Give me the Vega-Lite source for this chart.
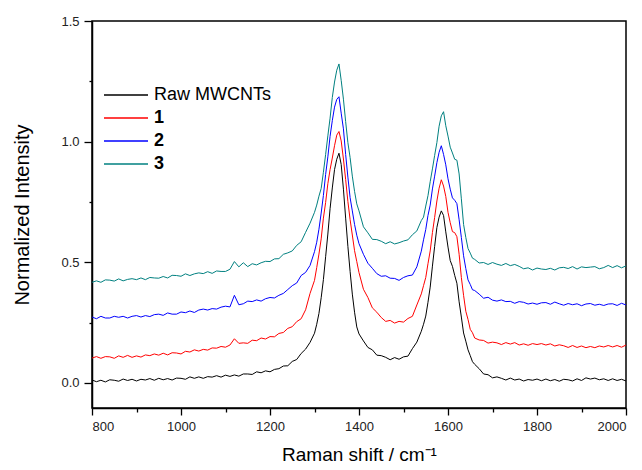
{
"$schema": "https://vega.github.io/schema/vega-lite/v6.json",
"width": 534, "height": 387,
"autosize": {"type": "none"},
"padding": {"left": 92, "top": 21, "right": 16, "bottom": 62},
"background": "white",
"config": {"view": {"stroke": "black", "strokeWidth": 1.5}, "font": "Liberation Sans"},
"data": {"values": [
{"x":800,"Raw MWCNTs":0.012,"1":0.103,"2":0.273,"3":0.417},
{"x":810,"Raw MWCNTs":0.005,"1":0.109,"2":0.266,"3":0.423},
{"x":820,"Raw MWCNTs":0.011,"1":0.102,"2":0.276,"3":0.417},
{"x":830,"Raw MWCNTs":0.004,"1":0.109,"2":0.269,"3":0.427},
{"x":840,"Raw MWCNTs":0.013,"1":0.108,"2":0.269,"3":0.426},
{"x":850,"Raw MWCNTs":0.011,"1":0.102,"2":0.276,"3":0.422},
{"x":860,"Raw MWCNTs":0.007,"1":0.112,"2":0.272,"3":0.431},
{"x":870,"Raw MWCNTs":0.016,"1":0.106,"2":0.276,"3":0.423},
{"x":880,"Raw MWCNTs":0.010,"1":0.114,"2":0.269,"3":0.429},
{"x":890,"Raw MWCNTs":0.015,"1":0.106,"2":0.276,"3":0.432},
{"x":900,"Raw MWCNTs":0.008,"1":0.112,"2":0.279,"3":0.428},
{"x":910,"Raw MWCNTs":0.015,"1":0.107,"2":0.273,"3":0.435},
{"x":920,"Raw MWCNTs":0.012,"1":0.116,"2":0.279,"3":0.428},
{"x":930,"Raw MWCNTs":0.018,"1":0.113,"2":0.275,"3":0.437},
{"x":940,"Raw MWCNTs":0.011,"1":0.120,"2":0.283,"3":0.435},
{"x":950,"Raw MWCNTs":0.019,"1":0.115,"2":0.285,"3":0.434},
{"x":960,"Raw MWCNTs":0.013,"1":0.123,"2":0.280,"3":0.441},
{"x":970,"Raw MWCNTs":0.018,"1":0.116,"2":0.290,"3":0.435},
{"x":980,"Raw MWCNTs":0.012,"1":0.125,"2":0.285,"3":0.446},
{"x":990,"Raw MWCNTs":0.020,"1":0.124,"2":0.285,"3":0.445},
{"x":1000,"Raw MWCNTs":0.019,"1":0.120,"2":0.294,"3":0.442},
{"x":1010,"Raw MWCNTs":0.015,"1":0.131,"2":0.291,"3":0.452},
{"x":1020,"Raw MWCNTs":0.025,"1":0.128,"2":0.298,"3":0.445},
{"x":1030,"Raw MWCNTs":0.019,"1":0.137,"2":0.292,"3":0.452},
{"x":1040,"Raw MWCNTs":0.025,"1":0.132,"2":0.302,"3":0.456},
{"x":1050,"Raw MWCNTs":0.019,"1":0.139,"2":0.306,"3":0.453},
{"x":1060,"Raw MWCNTs":0.026,"1":0.136,"2":0.302,"3":0.461},
{"x":1070,"Raw MWCNTs":0.024,"1":0.145,"2":0.308,"3":0.454},
{"x":1080,"Raw MWCNTs":0.030,"1":0.144,"2":0.306,"3":0.464},
{"x":1090,"Raw MWCNTs":0.024,"1":0.151,"2":0.314,"3":0.462},
{"x":1100,"Raw MWCNTs":0.032,"1":0.148,"2":0.318,"3":0.462},
{"x":1110,"Raw MWCNTs":0.027,"1":0.157,"2":0.315,"3":0.471},
{"x":1120,"Raw MWCNTs":0.033,"1":0.183,"2":0.363,"3":0.503},
{"x":1130,"Raw MWCNTs":0.028,"1":0.164,"2":0.324,"3":0.481},
{"x":1140,"Raw MWCNTs":0.037,"1":0.166,"2":0.328,"3":0.498},
{"x":1150,"Raw MWCNTs":0.037,"1":0.164,"2":0.339,"3":0.482},
{"x":1160,"Raw MWCNTs":0.035,"1":0.177,"2":0.337,"3":0.494},
{"x":1170,"Raw MWCNTs":0.046,"1":0.175,"2":0.344,"3":0.489},
{"x":1180,"Raw MWCNTs":0.042,"1":0.186,"2":0.339,"3":0.498},
{"x":1190,"Raw MWCNTs":0.050,"1":0.182,"2":0.349,"3":0.504},
{"x":1200,"Raw MWCNTs":0.046,"1":0.192,"2":0.354,"3":0.503},
{"x":1210,"Raw MWCNTs":0.056,"1":0.191,"2":0.352,"3":0.514},
{"x":1220,"Raw MWCNTs":0.059,"1":0.205,"2":0.363,"3":0.515},
{"x":1230,"Raw MWCNTs":0.070,"1":0.209,"2":0.371,"3":0.533},
{"x":1240,"Raw MWCNTs":0.071,"1":0.226,"2":0.387,"3":0.539},
{"x":1250,"Raw MWCNTs":0.089,"1":0.233,"2":0.403,"3":0.547},
{"x":1260,"Raw MWCNTs":0.097,"1":0.254,"2":0.414,"3":0.570},
{"x":1270,"Raw MWCNTs":0.122,"1":0.266,"2":0.445,"3":0.585},
{"x":1280,"Raw MWCNTs":0.140,"1":0.303,"2":0.458,"3":0.624},
{"x":1290,"Raw MWCNTs":0.168,"1":0.371,"2":0.487,"3":0.662},
{"x":1300,"Raw MWCNTs":0.206,"1":0.425,"2":0.544,"3":0.707},
{"x":1305,"Raw MWCNTs":0.243,"1":0.478,"2":0.583,"3":0.737},
{"x":1310,"Raw MWCNTs":0.288,"1":0.534,"2":0.637,"3":0.774},
{"x":1315,"Raw MWCNTs":0.353,"1":0.597,"2":0.704,"3":0.806},
{"x":1320,"Raw MWCNTs":0.428,"1":0.683,"2":0.777,"3":0.873},
{"x":1325,"Raw MWCNTs":0.523,"1":0.748,"2":0.864,"3":0.947},
{"x":1330,"Raw MWCNTs":0.617,"1":0.826,"2":0.937,"3":1.024},
{"x":1335,"Raw MWCNTs":0.722,"1":0.884,"2":1.022,"3":1.097},
{"x":1340,"Raw MWCNTs":0.808,"1":0.932,"2":1.087,"3":1.183},
{"x":1345,"Raw MWCNTs":0.884,"1":0.983,"2":1.143,"3":1.247},
{"x":1350,"Raw MWCNTs":0.927,"1":1.027,"2":1.175,"3":1.296},
{"x":1355,"Raw MWCNTs":0.952,"1":1.042,"2":1.186,"3":1.322},
{"x":1360,"Raw MWCNTs":0.905,"1":1.003,"2":1.118,"3":1.254},
{"x":1365,"Raw MWCNTs":0.803,"1":0.928,"2":1.053,"3":1.176},
{"x":1370,"Raw MWCNTs":0.683,"1":0.843,"2":0.947,"3":1.083},
{"x":1375,"Raw MWCNTs":0.566,"1":0.752,"2":0.853,"3":0.996},
{"x":1380,"Raw MWCNTs":0.462,"1":0.677,"2":0.768,"3":0.934},
{"x":1385,"Raw MWCNTs":0.368,"1":0.613,"2":0.713,"3":0.857},
{"x":1390,"Raw MWCNTs":0.293,"1":0.548,"2":0.657,"3":0.794},
{"x":1395,"Raw MWCNTs":0.232,"1":0.503,"2":0.612,"3":0.742},
{"x":1400,"Raw MWCNTs":0.203,"1":0.457,"2":0.577,"3":0.713},
{"x":1410,"Raw MWCNTs":0.174,"1":0.388,"2":0.533,"3":0.647},
{"x":1420,"Raw MWCNTs":0.147,"1":0.354,"2":0.496,"3":0.622},
{"x":1430,"Raw MWCNTs":0.137,"1":0.311,"2":0.475,"3":0.595},
{"x":1440,"Raw MWCNTs":0.115,"1":0.293,"2":0.453,"3":0.594},
{"x":1450,"Raw MWCNTs":0.113,"1":0.271,"2":0.442,"3":0.587},
{"x":1460,"Raw MWCNTs":0.106,"1":0.255,"2":0.444,"3":0.577},
{"x":1470,"Raw MWCNTs":0.096,"1":0.259,"2":0.434,"3":0.585},
{"x":1480,"Raw MWCNTs":0.105,"1":0.248,"2":0.433,"3":0.576},
{"x":1490,"Raw MWCNTs":0.098,"1":0.255,"2":0.425,"3":0.581},
{"x":1500,"Raw MWCNTs":0.108,"1":0.252,"2":0.437,"3":0.588},
{"x":1510,"Raw MWCNTs":0.111,"1":0.267,"2":0.444,"3":0.593},
{"x":1520,"Raw MWCNTs":0.142,"1":0.276,"2":0.447,"3":0.614},
{"x":1530,"Raw MWCNTs":0.169,"1":0.323,"2":0.481,"3":0.630},
{"x":1540,"Raw MWCNTs":0.214,"1":0.369,"2":0.546,"3":0.673},
{"x":1545,"Raw MWCNTs":0.243,"1":0.403,"2":0.593,"3":0.687},
{"x":1550,"Raw MWCNTs":0.277,"1":0.437,"2":0.636,"3":0.733},
{"x":1555,"Raw MWCNTs":0.334,"1":0.494,"2":0.694,"3":0.776},
{"x":1560,"Raw MWCNTs":0.397,"1":0.547,"2":0.737,"3":0.834},
{"x":1565,"Raw MWCNTs":0.484,"1":0.623,"2":0.804,"3":0.887},
{"x":1570,"Raw MWCNTs":0.566,"1":0.686,"2":0.857,"3":0.943},
{"x":1575,"Raw MWCNTs":0.644,"1":0.754,"2":0.913,"3":0.996},
{"x":1580,"Raw MWCNTs":0.687,"1":0.807,"2":0.956,"3":1.064},
{"x":1585,"Raw MWCNTs":0.713,"1":0.842,"2":0.983,"3":1.107},
{"x":1590,"Raw MWCNTs":0.694,"1":0.816,"2":0.947,"3":1.124},
{"x":1595,"Raw MWCNTs":0.626,"1":0.773,"2":0.904,"3":1.066},
{"x":1600,"Raw MWCNTs":0.563,"1":0.707,"2":0.846,"3":1.023},
{"x":1605,"Raw MWCNTs":0.507,"1":0.664,"2":0.803,"3":0.977},
{"x":1610,"Raw MWCNTs":0.483,"1":0.627,"2":0.767,"3":0.953},
{"x":1615,"Raw MWCNTs":0.446,"1":0.623,"2":0.757,"3":0.927},
{"x":1620,"Raw MWCNTs":0.413,"1":0.606,"2":0.743,"3":0.923},
{"x":1625,"Raw MWCNTs":0.336,"1":0.533,"2":0.676,"3":0.866},
{"x":1630,"Raw MWCNTs":0.273,"1":0.437,"2":0.603,"3":0.763},
{"x":1635,"Raw MWCNTs":0.207,"1":0.363,"2":0.527,"3":0.657},
{"x":1640,"Raw MWCNTs":0.173,"1":0.297,"2":0.474,"3":0.603},
{"x":1645,"Raw MWCNTs":0.137,"1":0.263,"2":0.427,"3":0.557},
{"x":1650,"Raw MWCNTs":0.113,"1":0.222,"2":0.408,"3":0.538},
{"x":1655,"Raw MWCNTs":0.088,"1":0.208,"2":0.386,"3":0.517},
{"x":1660,"Raw MWCNTs":0.077,"1":0.186,"2":0.383,"3":0.512},
{"x":1670,"Raw MWCNTs":0.059,"1":0.178,"2":0.368,"3":0.497},
{"x":1680,"Raw MWCNTs":0.037,"1":0.176,"2":0.351,"3":0.499},
{"x":1690,"Raw MWCNTs":0.034,"1":0.165,"2":0.355,"3":0.491},
{"x":1700,"Raw MWCNTs":0.021,"1":0.169,"2":0.343,"3":0.499},
{"x":1710,"Raw MWCNTs":0.025,"1":0.166,"2":0.339,"3":0.492},
{"x":1720,"Raw MWCNTs":0.019,"1":0.159,"2":0.344,"3":0.487},
{"x":1730,"Raw MWCNTs":0.012,"1":0.167,"2":0.337,"3":0.495},
{"x":1740,"Raw MWCNTs":0.020,"1":0.161,"2":0.338,"3":0.486},
{"x":1750,"Raw MWCNTs":0.012,"1":0.167,"2":0.330,"3":0.491},
{"x":1760,"Raw MWCNTs":0.016,"1":0.157,"2":0.337,"3":0.483},
{"x":1770,"Raw MWCNTs":0.008,"1":0.162,"2":0.334,"3":0.473},
{"x":1780,"Raw MWCNTs":0.014,"1":0.156,"2":0.327,"3":0.477},
{"x":1790,"Raw MWCNTs":0.011,"1":0.163,"2":0.331,"3":0.468},
{"x":1800,"Raw MWCNTs":0.016,"1":0.159,"2":0.326,"3":0.476},
{"x":1810,"Raw MWCNTs":0.009,"1":0.163,"2":0.332,"3":0.472},
{"x":1820,"Raw MWCNTs":0.016,"1":0.157,"2":0.333,"3":0.470},
{"x":1830,"Raw MWCNTs":0.009,"1":0.162,"2":0.326,"3":0.475},
{"x":1840,"Raw MWCNTs":0.014,"1":0.153,"2":0.335,"3":0.468},
{"x":1850,"Raw MWCNTs":0.007,"1":0.158,"2":0.328,"3":0.477},
{"x":1860,"Raw MWCNTs":0.015,"1":0.154,"2":0.322,"3":0.479},
{"x":1870,"Raw MWCNTs":0.013,"1":0.147,"2":0.329,"3":0.474},
{"x":1880,"Raw MWCNTs":0.008,"1":0.155,"2":0.324,"3":0.482},
{"x":1890,"Raw MWCNTs":0.017,"1":0.147,"2":0.328,"3":0.472},
{"x":1900,"Raw MWCNTs":0.010,"1":0.153,"2":0.320,"3":0.481},
{"x":1910,"Raw MWCNTs":0.021,"1":0.146,"2":0.327,"3":0.478},
{"x":1920,"Raw MWCNTs":0.016,"1":0.151,"2":0.329,"3":0.480},
{"x":1930,"Raw MWCNTs":0.020,"1":0.146,"2":0.322,"3":0.482},
{"x":1940,"Raw MWCNTs":0.013,"1":0.153,"2":0.326,"3":0.473},
{"x":1950,"Raw MWCNTs":0.017,"1":0.149,"2":0.321,"3":0.478},
{"x":1960,"Raw MWCNTs":0.010,"1":0.155,"2":0.327,"3":0.487},
{"x":1970,"Raw MWCNTs":0.017,"1":0.149,"2":0.328,"3":0.478},
{"x":1980,"Raw MWCNTs":0.010,"1":0.155,"2":0.321,"3":0.486},
{"x":1990,"Raw MWCNTs":0.015,"1":0.148,"2":0.330,"3":0.477},
{"x":2000,"Raw MWCNTs":0.008,"1":0.157,"2":0.323,"3":0.485}
]},
"transform": [{"fold": ["Raw MWCNTs", "1", "2", "3"], "as": ["series", "value"]}],
"mark": {"type": "line", "strokeWidth": 1, "clip": true},
"encoding": {
  "x": {"field": "x", "type": "quantitative", "scale": {"domain": [800, 2000], "nice": false, "zero": false},
        "axis": {"orient": "bottom", "grid": false, "values": [800, 900, 1000, 1100, 1200, 1300, 1400, 1500, 1600, 1700, 1800, 1900, 2000],
                 "labelExpr": "datum.value % 200 === 0 ? format(datum.value, 'd') : ''",
                 "tickColor": "black", "tickWidth": 1.3,
                 "tickSize": {"condition": {"test": "datum.value % 200 === 0", "value": 7}, "value": 4},
                 "domainColor": "black", "domainWidth": 1.5,
                 "labelColor": "#222222", "labelFontSize": 13, "labelPadding": 5,
                 "title": "Raman shift / cm⁻¹", "titleFontWeight": "normal", "titleColor": "black", "titleFontSize": 19, "titlePadding": 12}},
  "y": {"field": "value", "type": "quantitative", "scale": {"domain": [-0.104, 1.5], "nice": false, "zero": false},
        "axis": {"orient": "left", "grid": false, "values": [0, 0.25, 0.5, 0.75, 1, 1.25, 1.5],
                 "labelExpr": "round(datum.value * 4) % 2 === 0 ? format(datum.value, '.1f') : ''",
                 "tickColor": "black", "tickWidth": 1.3,
                 "tickSize": {"condition": {"test": "round(datum.value * 4) % 2 === 0", "value": 8}, "value": 3},
                 "domainColor": "black", "domainWidth": 1.5,
                 "labelColor": "#222222", "labelFontSize": 13, "labelPadding": 5,
                 "title": "Normalized Intensity", "titleFontWeight": "normal", "titleColor": "black", "titleFontSize": 20, "titlePadding": 28}},
  "color": {"field": "series", "type": "nominal",
    "scale": {"domain": ["Raw MWCNTs", "1", "2", "3"], "range": ["#000000", "#ff0000", "#0000ff", "#008080"]},
    "legend": {"orient": "none", "legendX": 11, "legendY": 62, "title": null, "padding": 0, "rowPadding": 2,
      "symbolType": "M-1,0H3", "symbolSize": 484, "symbolStrokeWidth": 1.3, "symbolFillColor": "transparent",
      "labelFontSize": 18, "labelOffset": 27, "labelColor": "black",
      "encode": {"labels": {"update": {"fontWeight": {"signal": "datum.value === 'Raw MWCNTs' ? 'normal' : 'bold'"}}}}}}
}
}
